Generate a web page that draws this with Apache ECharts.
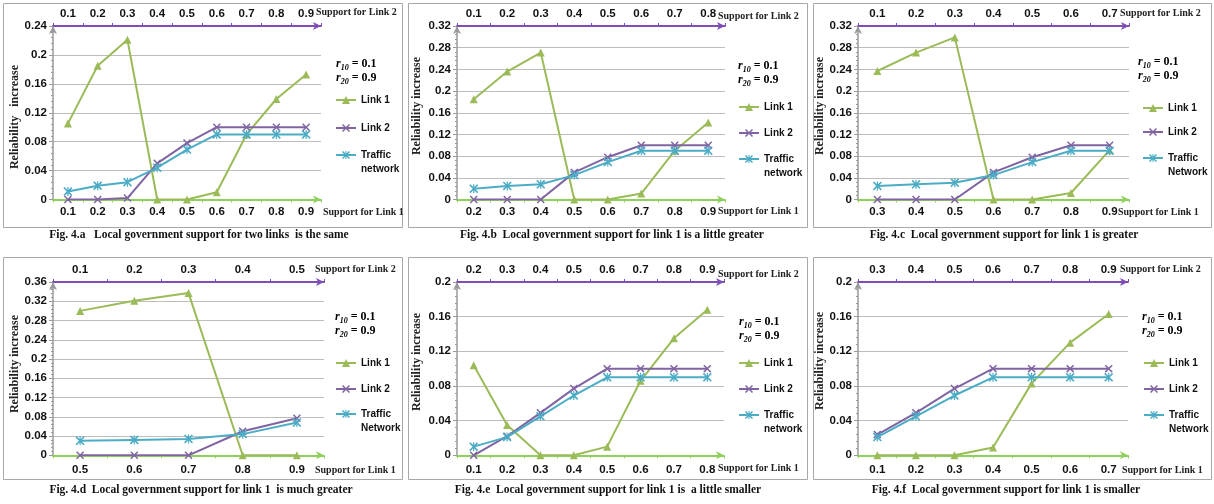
<!DOCTYPE html>
<html><head><meta charset="utf-8">
<script src="https://cdn.jsdelivr.net/npm/echarts@6/dist/echarts.min.js"></script>
<style>html,body{margin:0;padding:0;background:#fff}#c{width:1214px;height:504px}</style>
</head><body><div id="c"></div><script>
// ---------- DATA ----------
const a_bottom = ['0.1','0.2','0.3','0.4','0.5','0.6','0.7','0.8','0.9'];
const a_top    = ['0.1','0.2','0.3','0.4','0.5','0.6','0.7','0.8','0.9'];
const a_link1   = [0.105, 0.185, 0.221, 0, 0, 0.010, 0.090, 0.139, 0.173];
const a_link2   = [0, 0, 0.002, 0.050, 0.078, 0.100, 0.100, 0.100, 0.100];
const a_traffic = [0.011, 0.019, 0.024, 0.044, 0.069, 0.090, 0.090, 0.090, 0.090];

const b_bottom = ['0.2','0.3','0.4','0.5','0.6','0.7','0.8','0.9'];
const b_top    = ['0.1','0.2','0.3','0.4','0.5','0.6','0.7','0.8'];
const b_link1   = [0.185, 0.236, 0.271, 0, 0, 0.011, 0.090, 0.142];
const b_link2   = [0, 0, 0, 0.050, 0.078, 0.100, 0.100, 0.100];
const b_traffic = [0.020, 0.025, 0.028, 0.045, 0.069, 0.090, 0.090, 0.090];

const c_bottom = ['0.3','0.4','0.5','0.6','0.7','0.8','0.9'];
const c_top    = ['0.1','0.2','0.3','0.4','0.5','0.6','0.7'];
const c_link1   = [0.237, 0.271, 0.299, 0, 0, 0.012, 0.091];
const c_link2   = [0, 0, 0, 0.050, 0.078, 0.100, 0.100];
const c_traffic = [0.025, 0.028, 0.031, 0.045, 0.069, 0.090, 0.090];

const d_bottom = ['0.5','0.6','0.7','0.8','0.9'];
const d_top    = ['0.1','0.2','0.3','0.4','0.5'];
const d_link1   = [0.300, 0.321, 0.337, 0, 0];
const d_link2   = [0, 0, 0, 0.050, 0.077];
const d_traffic = [0.030, 0.032, 0.034, 0.044, 0.068];

const e_bottom = ['0.1','0.2','0.3','0.4','0.5','0.6','0.7','0.8'];
const e_top    = ['0.2','0.3','0.4','0.5','0.6','0.7','0.8','0.9'];
const e_link1   = [0.104, 0.035, 0, 0, 0.010, 0.086, 0.135, 0.168];
const e_link2   = [0, 0.022, 0.049, 0.077, 0.100, 0.100, 0.100, 0.100];
const e_traffic = [0.010, 0.021, 0.045, 0.069, 0.090, 0.090, 0.090, 0.090];

const f_bottom = ['0.1','0.2','0.3','0.4','0.5','0.6','0.7'];
const f_top    = ['0.3','0.4','0.5','0.6','0.7','0.8','0.9'];
const f_link1   = [0, 0, 0, 0.009, 0.083, 0.130, 0.163];
const f_link2   = [0.024, 0.049, 0.077, 0.100, 0.100, 0.100, 0.100];
const f_traffic = [0.021, 0.045, 0.069, 0.090, 0.090, 0.090, 0.090];

const yMaxes = [0.24, 0.32, 0.32, 0.36, 0.2, 0.2];
const yInterval = 0.04;
const trafficNames = ['Traffic network','Traffic network','Traffic Network','Traffic Network','Traffic network','Traffic Network'];
const captions = [
  'Fig. 4.a   Local government support for two links  is the same',
  'Fig. 4.b  Local government support for link 1 is a little greater',
  'Fig. 4.c  Local government support for link 1 is greater',
  'Fig. 4.d  Local government support for link 1  is much greater',
  'Fig. 4.e  Local government support for link 1 is  a little smaller',
  'Fig. 4.f  Local government support for link 1 is smaller'
];
const yNames = ['Reliability   increase','Reliability increase','Reliability increase','Reliability increase','Reliability increase','Reliability increase'];
const r10Text = '0.1', r20Text = '0.9';

const bottoms = [a_bottom,b_bottom,c_bottom,d_bottom,e_bottom,f_bottom];
const tops = [a_top,b_top,c_top,d_top,e_top,f_top];
const link1s = [a_link1,b_link1,c_link1,d_link1,e_link1,f_link1];
const link2s = [a_link2,b_link2,c_link2,d_link2,e_link2,f_link2];
const traffics = [a_traffic,b_traffic,c_traffic,d_traffic,e_traffic,f_traffic];

// ---------- LAYOUT / STYLE ----------
const L = [
  {grid:{left:53,top:26,width:268,height:173.5}, box:[3,3,399,224], cap:[199,235], yn:[15,117], s2:[316,12], s1:[323,212], r:[336,64], leg:[335,[100,128,155]], tm:6, bm:6},
  {grid:{left:457,top:26,width:268,height:173.5}, box:[408,3,399,224], cap:[612,235], yn:[417,106], s2:[718,16], s1:[718,211], r:[738,66], leg:[738,[107,133,159]], tm:6, bm:6},
  {grid:{left:858,top:26,width:271,height:173.5}, box:[813,3,398,224], cap:[1004,235], yn:[820,106], s2:[1120,13], s1:[1118,212], r:[1138,62], leg:[1142,[108,132,158]], tm:6, bm:6},
  {grid:{left:53,top:282,width:271,height:173.3}, box:[3,257,399,222], cap:[201,490], yn:[15,364], s2:[315,269], s1:[315,470], r:[335,317], leg:[335,[363,389,414]], tm:6, bm:9},
  {grid:{left:457,top:282,width:267,height:173.3}, box:[408,257,399,222], cap:[608,490], yn:[417,362], s2:[718,274], s1:[718,468], r:[739,322], leg:[738,[363,389,415]], tm:6, bm:9},
  {grid:{left:858,top:282,width:270,height:173.3}, box:[813,257,398,222], cap:[1006,490], yn:[820,361], s2:[1120,269], s1:[1122,470], r:[1142,317], leg:[1143,[363,389,415]], tm:6, bm:9}
];

const GREEN = '#9BBB59', PURPLE = '#8064A2', CYAN = '#4BACC6';
const AX_GREEN = '#8ED05A', AX_PURPLE = '#7E4DB5', AX_GRAY = '#9a9a9a';
const SANS = 'Liberation Sans', SERIF = 'Liberation Serif';
const X_PATH = 'path://M0,1.3L1.3,0L5,3.7L8.7,0L10,1.3L6.3,5L10,8.7L8.7,10L5,6.3L1.3,10L0,8.7L3.7,5Z';
const STAR_PATH = X_PATH + 'M4.35,0L5.65,0L5.65,10L4.35,10Z';

const grids = [], xAxes = [], yAxes = [], series = [], legends = [], graphics = [];
const tickLabel = {color:'#111', fontFamily:SANS, fontWeight:'bold', fontSize:11.5};

L.forEach((p, i) => {
  grids.push(Object.assign({containLabel:false}, p.grid));
  xAxes.push({
    gridIndex:i, type:'category', position:'bottom', data:bottoms[i], boundaryGap:true,
    axisLine:{show:true, onZero:false, lineStyle:{color:AX_GREEN, width:2}, symbol:['none','arrow'], symbolSize:[6,8]},
    axisTick:{show:true, length:3, lineStyle:{color:AX_GREEN}},
    axisLabel:Object.assign({margin:p.bm, interval:0}, tickLabel)
  });
  xAxes.push({
    gridIndex:i, type:'category', position:'top', data:tops[i], boundaryGap:true,
    axisLine:{show:true, onZero:false, lineStyle:{color:AX_PURPLE, width:2}, symbol:['none','arrow'], symbolSize:[6,8]},
    axisTick:{show:true, length:3, lineStyle:{color:AX_PURPLE}},
    axisLabel:Object.assign({margin:p.tm, interval:0}, tickLabel)
  });
  yAxes.push({
    gridIndex:i, type:'value', min:0, max:yMaxes[i], interval:yInterval,
    axisLine:{show:true, lineStyle:{color:AX_GRAY, width:1.5}, symbol:['none','arrow'], symbolSize:[6,8]},
    axisTick:{show:true, length:4, lineStyle:{color:AX_GRAY}},
    minorTick:{show:true, splitNumber:5, length:2, lineStyle:{color:AX_GRAY}},
    splitLine:{show:true, lineStyle:{color:'#bdbdbd', width:1}},
    axisLabel:Object.assign({margin:6}, tickLabel)
  });
  const names = ['Link 1','Link 2',trafficNames[i]];
  const datas = [link1s[i], link2s[i], traffics[i]];
  const colors = [GREEN, PURPLE, CYAN];
  const syms = ['triangle', X_PATH, STAR_PATH];
  const sizes = [8, 8, 9];
  for (let k = 0; k < 3; k++) {
    series.push({
      type:'line', name:names[k], xAxisIndex:2*i, yAxisIndex:i, data:datas[k],
      symbol:syms[k], symbolSize:sizes[k], showAllSymbol:true,
      lineStyle:{color:colors[k], width:2}, itemStyle:{color:colors[k]},
      z:2+k, animation:false
    });
    const isT = (k === 2);
    legends.push({
      data:[names[k]], left:p.leg[0], top:p.leg[1][k] - (isT ? 21 : 7), orient:'vertical',
      padding:0, itemWidth:20, itemHeight:10, itemGap:0, selectedMode:false,
      formatter: isT ? (n => ' \n' + n.replace(' ', '\n')) : '{name}',
      textStyle:{fontFamily:SANS, fontWeight:'bold', fontSize:10, color:'#111', lineHeight:14}
    });
  }
  // panel border
  graphics.push({type:'rect', shape:{x:p.box[0]+0.5, y:p.box[1]+0.5, width:p.box[2], height:p.box[3]}, style:{fill:'none', stroke:'#a8a8a8', lineWidth:1}, z:-1});
  // caption
  graphics.push({type:'text', x:p.cap[0], y:p.cap[1], style:{text:captions[i], font:'bold 11.5px "'+SERIF+'"', fill:'#111', align:'center', verticalAlign:'middle'}});
  // y axis name
  graphics.push({type:'text', x:p.yn[0], y:p.yn[1], rotation:Math.PI/2, style:{text:yNames[i], font:'bold 12px "'+SERIF+'"', fill:'#222', align:'center', verticalAlign:'middle'}});
  // support labels
  graphics.push({type:'text', x:p.s2[0], y:p.s2[1], style:{text:'Support for Link 2', font:'bold 10px "'+SERIF+'"', fill:'#222', align:'left', verticalAlign:'middle'}});
  graphics.push({type:'text', x:p.s1[0], y:p.s1[1], style:{text:'Support for Link 1', font:'bold 10px "'+SERIF+'"', fill:'#222', align:'left', verticalAlign:'middle'}});
  // r annotations
  const rr = {
    r:{fontFamily:SERIF, fontStyle:'italic', fontWeight:'bold', fontSize:12, color:'#333'},
    s:{fontFamily:SERIF, fontStyle:'italic', fontWeight:'bold', fontSize:8, color:'#333', padding:[8,0,0,0]},
    e:{fontFamily:SERIF, fontWeight:'bold', fontSize:12, color:'#333'}
  };
  graphics.push({type:'text', x:p.r[0], y:p.r[1], style:{text:'{r|r}{s|10}{e| = '+r10Text+'}', rich:rr, verticalAlign:'middle'}});
  graphics.push({type:'text', x:p.r[0], y:p.r[1]+14, style:{text:'{r|r}{s|20}{e| = '+r20Text+'}', rich:rr, verticalAlign:'middle'}});
});

const chart = echarts.init(document.getElementById('c'), null, {renderer:'canvas'});
chart.setOption({
  backgroundColor:'#fff', animation:false,
  grid:grids, xAxis:xAxes, yAxis:yAxes, series:series, legend:legends, graphic:graphics
});
</script></body></html>
